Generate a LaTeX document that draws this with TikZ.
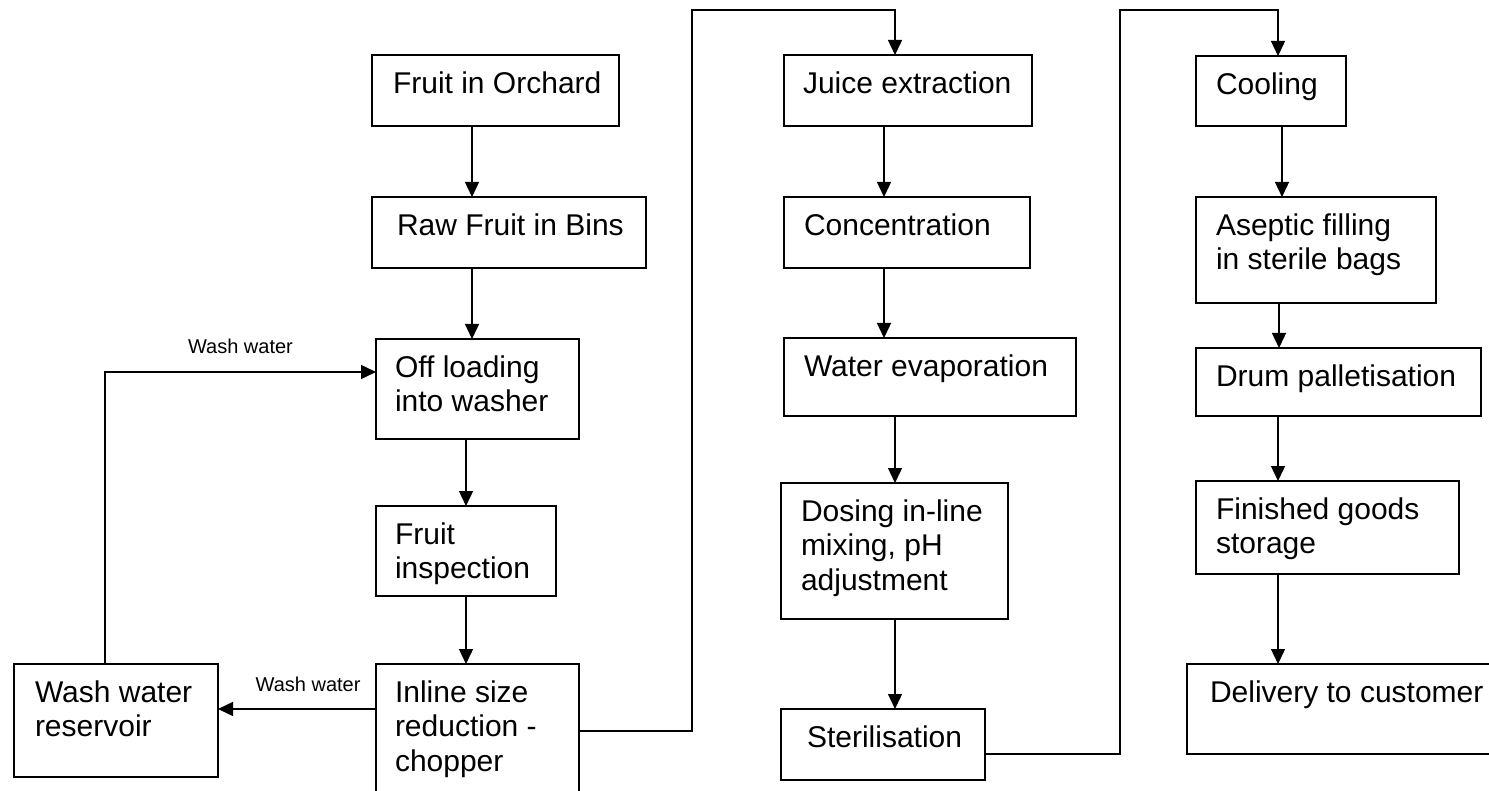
\documentclass[tikz,border=0pt]{standalone}
\usepackage{fontspec}
\setmainfont{Liberation Sans}
\usetikzlibrary{arrows.meta}
\newlength\px \setlength\px{0.5pt}
\newcommand\btxt[4]{\parbox[t][#2\px][t]{#1\px}{\leftskip=#3\px\rightskip=0pt plus 1fil\parindent=0pt\parfillskip=0pt plus 1fil\fontsize{15pt}{17.25pt}\selectfont\vspace*{14\px}\strut #4\par}}
\begin{document}
\begin{tikzpicture}[x=0.5pt,y=-0.5pt,
  box/.style={draw, rectangle, line width=0.7pt, inner sep=0pt, outer sep=0pt, anchor=north west},
  arr/.style={line width=0.7pt, -{Triangle[length=7.5pt,width=7pt]}},
  lab/.style={font=\fontsize{10pt}{12pt}\selectfont, inner sep=0pt}]
\useasboundingbox (0,0) rectangle (1489,791);
\fill[white] (0,0) rectangle (1489,791);
\clip (0,0) rectangle (1489,791);
% helper coordinates
\coordinate (xa) at (472,0);
\coordinate (xb) at (466,0);
\coordinate (xc) at (884,0);
\coordinate (xd) at (895,0);
\coordinate (xe) at (1282,0);
\coordinate (xf) at (1279,0);
\coordinate (xg) at (1278,0);
\coordinate (xw) at (105,0);
\coordinate (yw) at (0,372);
\coordinate (yl) at (0,709);
\coordinate (yi) at (0,731);
\coordinate (ys) at (0,754);
\coordinate (k1) at (692,10);
\coordinate (k2) at (1120,10);
% column 1
\node[box] (FO) at (372,55)  {\btxt{247}{71}{21}{Fruit in Orchard}};
\node[box] (RF) at (372,197) {\btxt{274}{71}{25}{Raw Fruit in Bins}};
\node[box] (OL) at (376,339) {\btxt{203}{100}{19}{Off loading\\into washer}};
\node[box] (FI) at (376,506) {\btxt{180}{90}{19}{Fruit\\inspection}};
\node[box] (IS) at (376,664) {\btxt{203}{150}{19}{Inline size\\reduction -\\chopper}};
\node[box] (WR) at (14,664)  {\btxt{204}{113}{21}{Wash water\\reservoir}};
% column 2
\node[box] (JE) at (784,55)  {\btxt{248}{71}{19}{Juice extraction}};
\node[box] (CO) at (784,197) {\btxt{246}{71}{20}{Concentration}};
\node[box] (WE) at (784,338) {\btxt{292}{78}{20}{Water evaporation}};
\node[box] (DO) at (781,483) {\btxt{227}{136}{20}{Dosing in-line\\mixing, pH\\adjustment}};
\node[box] (ST) at (781,709) {\btxt{204}{71}{26}{Sterilisation}};
% column 3
\node[box] (CL) at (1196,56)  {\btxt{150}{70}{20}{Cooling}};
\node[box] (AF) at (1196,197) {\btxt{240}{106}{20}{Aseptic filling\\in sterile bags}};
\node[box] (DP) at (1196,348) {\btxt{285}{68}{20}{Drum palletisation}};
\node[box] (FG) at (1196,481) {\btxt{263}{93}{20}{Finished goods\\storage}};
\node[box] (DC) at (1187,664) {\btxt{330}{90}{23}{Delivery to customer}};
% connectors column 1
\draw[arr] (FO.south -| xa) -- (RF.north -| xa);
\draw[arr] (RF.south -| xa) -- (OL.north -| xa);
\draw[arr] (OL.south -| xb) -- (FI.north -| xb);
\draw[arr] (FI.south -| xb) -- (IS.north -| xb);
\draw[arr] (IS.west |- yl) -- (WR.east |- yl) node[lab, pos=0.43, above=8.4pt] {Wash water};
\draw[arr] (WR.north -| xw) |- (OL.west |- yw) node[lab, pos=0.75, above=9pt] {Wash water};
\draw[arr] (IS.east |- yi) -| (k1) -| (JE.north -| xd);
% column 2
\draw[arr] (JE.south -| xc) -- (CO.north -| xc);
\draw[arr] (CO.south -| xc) -- (WE.north -| xc);
\draw[arr] (WE.south -| xd) -- (DO.north -| xd);
\draw[arr] (DO.south -| xd) -- (ST.north -| xd);
\draw[arr] (ST.east |- ys) -| (k2) -| (CL.north -| xg);
% column 3
\draw[arr] (CL.south -| xe) -- (AF.north -| xe);
\draw[arr] (AF.south -| xf) -- (DP.north -| xf);
\draw[arr] (DP.south -| xg) -- (FG.north -| xg);
\draw[arr] (FG.south -| xg) -- (DC.north -| xg);
\end{tikzpicture}
\end{document}
